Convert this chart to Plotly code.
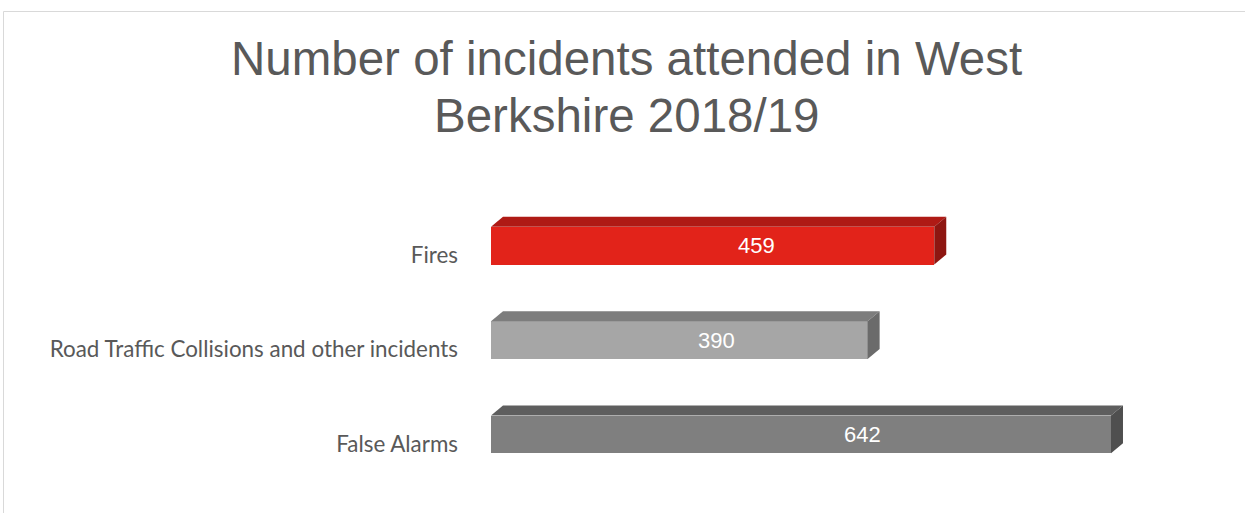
import plotly.graph_objects as go

categories = ["Fires", "Road Traffic Collisions and other incidents", "False Alarms"]
values = [459, 390, 642]
front_colors = ["#E2231A", "#A6A6A6", "#7F7F7F"]
top_colors = ["#AF1A15", "#7D7D7D", "#5E5E5E"]
side_colors = ["#8E1611", "#6B6B6B", "#4F4F4F"]
title_lines = ["Number of incidents attended in West", "Berkshire 2018/19"]

W, H = 1245, 513
ML, MR, MT, MB = 491, 78, 208, 22
XMAX = 700
plot_w = W - ML - MR
plot_h = H - MT - MB
px_per_x = plot_w / XMAX
px_per_y = plot_h / 3.0


def py2paper(py):
    return (H - MB - py) / plot_h


def px2paper(px):
    return (px - ML) / plot_w


bar_w = 0.4
shift = -0.1          # bar centre relative to category tick
depth_x = 12 / px_per_x
depth_y = 10 / px_per_y

fig = go.Figure()

ypos = list(range(len(categories)))

fig.add_trace(go.Bar(
    x=values, y=ypos, orientation="h",
    width=bar_w, offset=shift - bar_w / 2,
    marker=dict(color=front_colors, line=dict(width=0)),
    hoverinfo="skip", showlegend=False,
))

for i, v in enumerate(values):
    yc = i + shift
    yt, yb = yc - bar_w / 2, yc + bar_w / 2
    fig.add_trace(go.Scatter(
        x=[0, v, v + depth_x, depth_x, 0],
        y=[yt, yt, yt - depth_y, yt - depth_y, yt],
        fill="toself", fillcolor=top_colors[i], mode="lines",
        line=dict(width=0), hoverinfo="skip", showlegend=False,
    ))
    fig.add_trace(go.Scatter(
        x=[v, v + depth_x, v + depth_x, v, v],
        y=[yt, yt - depth_y, yb - depth_y, yb, yt],
        fill="toself", fillcolor=side_colors[i], mode="lines",
        line=dict(width=0), hoverinfo="skip", showlegend=False,
    ))
    fig.add_annotation(
        x=v * 0.6, y=yc, text=str(v), showarrow=False,
        font=dict(family="Liberation Sans, Arial", size=22, color="white"),
        xanchor="center", yanchor="middle",
    )

for line, cy in zip(title_lines, [58, 115]):
    fig.add_annotation(
        x=px2paper(W / 2 + 4), xref="paper", y=py2paper(cy), yref="paper",
        text=line, showarrow=False, xanchor="center", yanchor="middle",
        font=dict(family="Liberation Sans, Arial", size=47.5, color="#595959"),
    )

fig.add_shape(
    type="rect", xref="paper", yref="paper",
    x0=px2paper(3.5), x1=px2paper(W + 20),
    y0=py2paper(H + 20), y1=py2paper(11.5),
    line=dict(color="#D9D9D9", width=1), layer="below",
)

fig.update_layout(
    width=W, height=H,
    margin=dict(l=ML, r=MR, t=MT, b=MB),
    paper_bgcolor="white", plot_bgcolor="white",
    xaxis=dict(range=[0, XMAX], visible=False, fixedrange=True),
    yaxis=dict(
        range=[2.5, -0.5], tickmode="array", tickvals=ypos, ticktext=categories,
        showgrid=False, zeroline=False, showline=False, ticks="",
        ticklabelstandoff=32,
        tickfont=dict(family="Lato, Carlito, Calibri", size=22.4, color="#595959"),
        fixedrange=True,
    ),
    bargap=0,
)

fig.write_html(
    "out.html",
    config={"displayModeBar": False, "staticPlot": True},
    post_script="document.body.style.margin='0';document.body.style.overflow='hidden';",
)
